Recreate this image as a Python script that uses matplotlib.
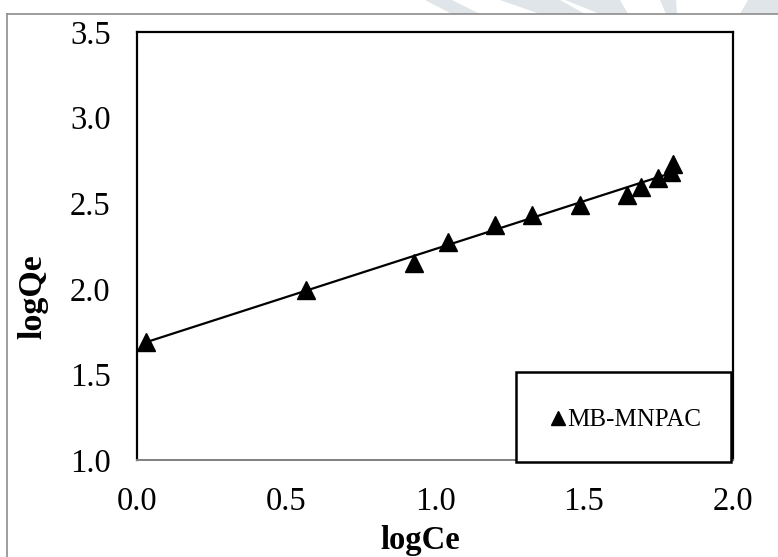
import matplotlib
matplotlib.use("Agg")
import matplotlib.pyplot as plt
from matplotlib.patches import Rectangle, Polygon
import numpy as np

plt.rcParams['font.family'] = ['Liberation Serif', 'DejaVu Serif']

# Freundlich isotherm data, MB on MNPAC
logCe = [0.029, 0.567, 0.930, 1.042, 1.200, 1.327, 1.488, 1.643, 1.691, 1.747, 1.792, 1.798]
logQe = [1.691, 1.993, 2.149, 2.275, 2.373, 2.432, 2.492, 2.548, 2.596, 2.645, 2.684, 2.729]
xticks = [0.0, 0.5, 1.0, 1.5, 2.0]
yticks = [1.0, 1.5, 2.0, 2.5, 3.0, 3.5]
series_name = "MB-MNPAC"

W, H = 778, 557
fig = plt.figure(figsize=(W/100, H/100), dpi=100)
fig.patch.set_facecolor('white')

# faint page logo showing above the frame
wm = '#dfe5e8'
for pts in [[(425, 0), (452, 0), (480, 14), (452, 14)],
            [(500, 0), (560, 0), (585, 14), (540, 14)],
            [(565, 0), (620, 0), (628, 14), (600, 14)],
            [(660, 0), (676, 0), (677, 14), (666, 14)],
            [(748, 0), (778, 0), (778, 14), (740, 14)]]:
  fig.patches.append(Polygon([(x/W, 1 - y/H) for x, y in pts], closed=True,
                             transform=fig.transFigure, facecolor=wm, edgecolor='none', zorder=0))

# outer gray frame
fig.add_artist(plt.Line2D([7/W, 7/W], [0, 1 - 14/H], color='#8c8c8c', lw=1.2, transform=fig.transFigure))
fig.add_artist(plt.Line2D([7/W, 1], [1 - 14/H, 1 - 14/H], color='#8c8c8c', lw=1.2, transform=fig.transFigure))

ax = fig.add_axes([137/W, 1 - 460/H, 596/W, 428/H])
ax.set_xlim(0, 2)
ax.set_ylim(1, 3.5)

# linear trendline over the data range
k, b = np.polyfit(logCe, logQe, 1)
xl = np.array([min(logCe), max(logCe)])
ax.plot(xl, k*xl + b, color='black', lw=1.6, zorder=2)
ax.plot(logCe, logQe, linestyle='none', marker='^', markersize=12.5, color='black', zorder=3,
        label=series_name)

ax.set_xticks(xticks)
ax.set_yticks(yticks)
ax.set_xticklabels([f"{v:.1f}" for v in xticks])
ax.set_yticklabels([f"{v:.1f}" for v in yticks])
ax.tick_params(axis='both', length=0, labelsize=23.5)
ax.tick_params(axis='x', pad=19)
ax.tick_params(axis='y', pad=19)
for s in ['left', 'top', 'right']:
  ax.spines[s].set_linewidth(1.6)
  ax.spines[s].set_color('black')
ax.spines['bottom'].set_linewidth(1.4)
ax.spines['bottom'].set_color('#7f7f7f')

fig.text(33/W, 1 - 297/H, 'logQe', rotation=90, fontsize=24.5, fontweight='bold', ha='center', va='center')
fig.text(420/W, 1 - 541/H, 'logCe', fontsize=23.5, fontweight='bold', ha='center', va='center')

# legend box in the lower right corner
box = Rectangle((516/W, 1 - 462/H), 215/W, 90/H, transform=fig.transFigure,
                facecolor='white', edgecolor='black', lw=1.8, zorder=5)
fig.add_artist(box)
leg = fig.legend(loc='center', bbox_to_anchor=(626/W, 1 - 420/H), frameon=False,
                 fontsize=18, markerscale=0.75, handlelength=0.6, handletextpad=0.05,
                 borderpad=0, borderaxespad=0)
leg.set_zorder(6)

fig.savefig('out.png', dpi=100)
